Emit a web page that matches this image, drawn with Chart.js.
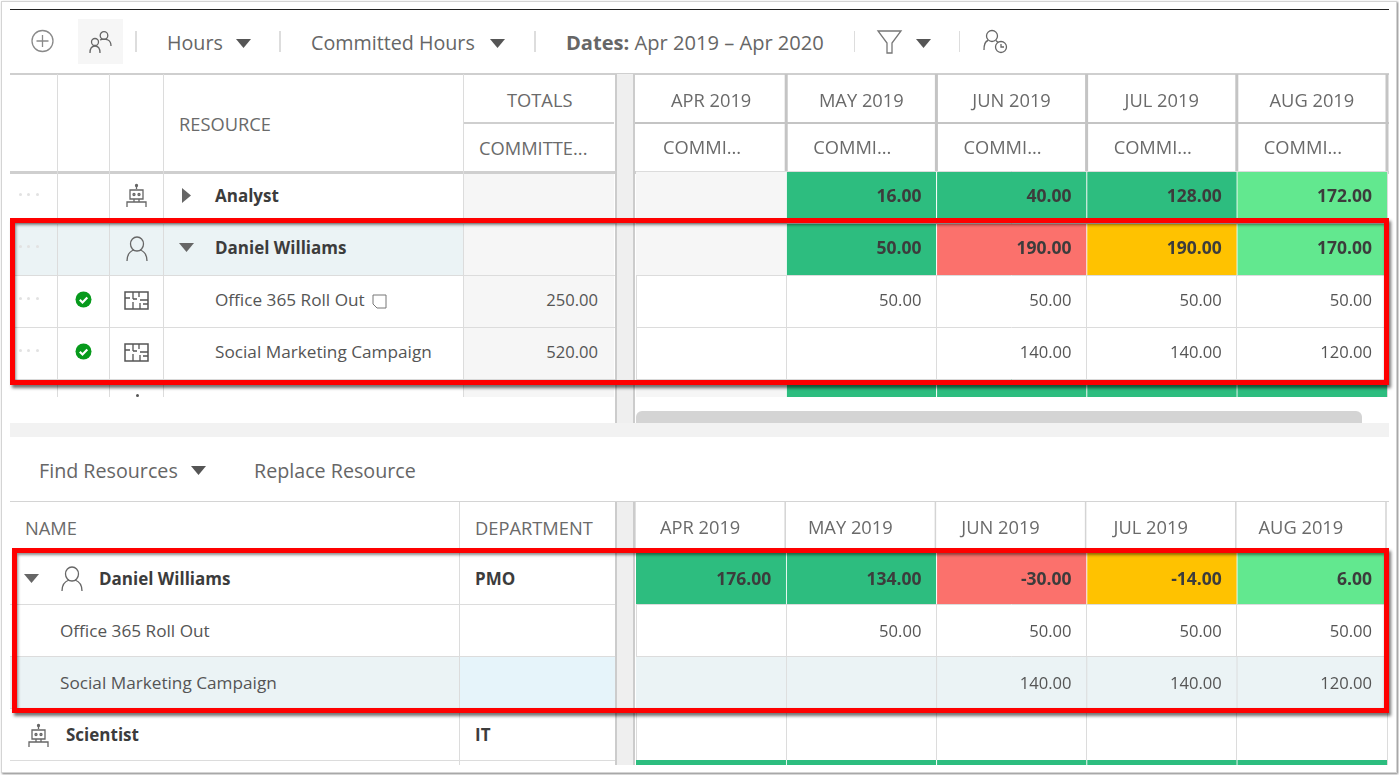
<!DOCTYPE html>
<html lang="en">
<head>
<meta charset="UTF-8" />
<title>Resource Capacity</title>
<style>
  html, body { margin: 0; background: #fff; overflow: hidden; }
  body { width: 1399px; height: 775px; position: relative; font-family: 'Open Sans', sans-serif; font-size: 17.2px; color: #555; }
  #frame { position: absolute; left: 1px; top: 1px; width: 1394px; height: 770px; border: 1px solid #d4d4d4; box-shadow: 1px 1px 2px rgba(0,0,0,.5); }
  .b { position: absolute; }
  .t { position: absolute; white-space: nowrap; line-height: 20px; transform: translateY(-50%); }
  .tool { font-size: 19.7px; color: #666; }
  .head { font-size: 18.3px; color: #6a6a6a; }
  .strong { font-weight: 700; color: #3c3c3c; font-size: 17px; }
  .num { font-size: 16.6px; }
  .r { transform: translate(-100%, -50%); }
  canvas { position: absolute; }
  .redbox { position: absolute; border: 5.5px solid #fe0000; box-sizing: border-box; box-shadow: 2px 3px 3px rgba(0,0,0,.55), inset 1px 2px 3px rgba(0,0,0,.45); }
  svg { position: absolute; overflow: visible; fill: none; stroke: #666; stroke-width: 1.3; }
</style>
</head>
<body>
<div id="frame"></div>
<div class="b" style="left:10px;top:9px;width:1379px;height:1px;background:#222"></div>

<!-- toolbar -->
<svg style="left:31px;top:29px" width="24" height="24"><circle cx="11.500" cy="12" r="10.500" style="stroke:#8a8a8a"/><path d="M11.500 6v12M5.500 12h12" style="stroke:#8a8a8a"/></svg>
<div class="b" style="left:78px;top:19px;width:45px;height:45px;background:#f6f6f6"></div>
<svg style="left:89px;top:30px" width="24" height="24"><circle cx="6" cy="12" r="3.500"/><path d="M1 23c0-5 2-7 5-7s5 2 5 7"/><circle cx="15" cy="5.500" r="3.800"/><path d="M11 10c2-1 6-1 8 0 2 1 3 3 3 6"/></svg>
<div class="b" style="left:135px;top:31px;width:2px;height:21px;background:#ddd"></div>
<div class="t tool" style="left:167px;top:43px">Hours</div>
<svg style="left:236px;top:39px" width="15" height="9"><path d="M0 0h15L7.500 9z" style="fill:#555;stroke:none"/></svg>
<div class="b" style="left:279px;top:31px;width:2px;height:21px;background:#ddd"></div>
<div class="t tool" style="left:311px;top:43px">Committed Hours</div>
<svg style="left:490px;top:39px" width="15" height="9"><path d="M0 0h15L7.500 9z" style="fill:#555;stroke:none"/></svg>
<div class="b" style="left:534px;top:31px;width:2px;height:21px;background:#ddd"></div>
<div class="t tool" style="left:566px;top:43px;font-size:20.1px"><b>Dates:</b> Apr 2019 – Apr 2020</div>
<div class="b" style="left:854px;top:31px;width:1px;height:21px;background:#ddd"></div>
<svg style="left:877px;top:30px" width="26" height="24"><path d="M1 1h23l-9 12v10h-5V13z" style="stroke:#777"/></svg>
<svg style="left:916px;top:39px" width="15" height="9"><path d="M0 0h15L7.500 9z" style="fill:#555;stroke:none"/></svg>
<div class="b" style="left:959px;top:31px;width:1px;height:21px;background:#ddd"></div>
<svg style="left:983px;top:29px" width="25" height="25"><circle cx="9" cy="7" r="5.500"/><path d="M1 21c0-6 2-9 4-9.500M13 11.500l2 2"/><circle cx="18" cy="18" r="5.500"/><path d="M18 15v3h3"/></svg>

<!-- top table, left side -->
<div class="b" style="left:10px;top:73px;width:1379px;height:2px;background:#cfcfcf"></div>
<div class="b" style="left:10px;top:171px;width:1379px;height:3px;background:#cfcfcf"></div>
<div class="b" style="left:463px;top:122px;width:151px;height:2px;background:#cfcfcf"></div>
<div class="b" style="left:463px;top:174px;width:151px;height:223px;background:#f6f6f6"></div>
<div class="b" style="left:10px;top:223px;width:453px;height:52px;background:#ebf3f5"></div>
<div id="topLines"></div>
<div class="t head" style="left:179px;top:124px">RESOURCE</div>
<div class="t head" style="left:507px;top:100px">TOTALS</div>
<div class="t head" style="left:479px;top:148px">COMMITTE...</div>
<div class="b" style="left:615px;top:74px;width:20px;height:349px;background:#efefef;border-left:2px solid #ccc;border-right:2px solid #ccc;box-sizing:border-box"></div>

<div class="t strong" style="left:215px;top:196px">Analyst</div>
<svg style="left:182px;top:188px" width="9" height="15"><path d="M0 0l9 7.500L0 15z" style="fill:#666;stroke:none"/></svg>
<svg style="left:125px;top:184px" width="24" height="24"><use href="#robot"/></svg>

<div class="t strong" style="left:215px;top:248px">Daniel Williams</div>
<svg style="left:179px;top:243px" width="15" height="9"><path d="M0 0h15L7.500 9z" style="fill:#666;stroke:none"/></svg>
<svg style="left:125px;top:236px" width="24" height="26"><use href="#person"/></svg>

<div class="t" style="left:215px;top:300px">Office 365 Roll Out</div>
<svg style="left:372px;top:294px" width="15" height="15"><path d="M1 1h13v13H5L1 10z" style="stroke:#777;stroke-width:1"/></svg>
<svg style="left:124px;top:291px" width="25" height="19"><use href="#plan"/></svg>
<svg style="left:75px;top:291px" width="17" height="17"><use href="#check"/></svg>
<div class="t r num" style="left:598px;top:300px">250.00</div>

<div class="t" style="left:215px;top:352px">Social Marketing Campaign</div>
<svg style="left:124px;top:343px" width="25" height="19"><use href="#plan"/></svg>
<svg style="left:75px;top:343px" width="17" height="17"><use href="#check"/></svg>
<div class="t r num" style="left:598px;top:352px">520.00</div>

<div class="b" style="left:136px;top:394px;width:3px;height:3px;border-radius:50%;background:#555"></div>
<div class="b" style="left:636px;top:411px;width:726px;height:12px;background:#d4d4d4;border-radius:6px 6px 0 0"></div>
<div class="b" style="left:10px;top:423px;width:1379px;height:14px;background:#f2f2f2"></div>

<!-- bottom table, left side -->
<div class="t tool" style="left:39px;top:471px">Find Resources</div>
<svg style="left:191px;top:466px" width="15" height="9"><path d="M0 0h15L7.500 9z" style="fill:#555;stroke:none"/></svg>
<div class="t tool" style="left:254px;top:471px">Replace Resource</div>
<div class="b" style="left:10px;top:501px;width:1379px;height:1px;background:#d4d4d4"></div>
<div class="b" style="left:10px;top:656px;width:449px;height:52px;background:#ebf3f5"></div>
<div class="b" style="left:460px;top:656px;width:155px;height:52px;background:#e6f4fa"></div>
<div id="botLines"></div>
<div class="t head" style="left:25px;top:528px">NAME</div>
<div class="t head" style="left:475px;top:528px">DEPARTMENT</div>
<div class="b" style="left:615px;top:502px;width:20px;height:263px;background:#efefef;border-left:2px solid #ccc;border-right:2px solid #ccc;box-sizing:border-box"></div>
<svg style="left:24px;top:574px" width="15" height="9"><path d="M0 0h15L7.500 9z" style="fill:#666;stroke:none"/></svg>
<svg style="left:60px;top:566px" width="24" height="26"><use href="#person"/></svg>
<div class="t strong" style="left:99px;top:579px">Daniel Williams</div>
<div class="t strong" style="left:475px;top:579px">PMO</div>
<div class="t" style="left:60px;top:631px">Office 365 Roll Out</div>
<div class="t" style="left:60px;top:683px">Social Marketing Campaign</div>
<svg style="left:27px;top:724px" width="24" height="24"><use href="#robot"/></svg>
<div class="t strong" style="left:66px;top:735px">Scientist</div>
<div class="t strong" style="left:475px;top:735px">IT</div>

<svg width="0" height="0" style="position:absolute">
  <defs>
    <g id="robot"><path d="M11.500 1v4M5 6h13v9H5zM2 23v-5h19v5M9 15v3M14 15v3"/><circle cx="11.500" cy="1.500" r="1" style="fill:#666"/><circle cx="9" cy="10.500" r="1"/><circle cx="14" cy="10.500" r="1"/></g>
    <g id="person"><ellipse cx="12" cy="8" rx="6.500" ry="7"/><path d="M2 25c0-7 4-10 7-11M22 25c0-7-4-10-7-11"/></g>
    <g id="plan"><rect x="1" y="1" width="23" height="17" style="stroke:#555;stroke-width:1.500"/><path d="M9 1v7M1 7h5M9 11v7M9 8h4M15 1v5M16 9h8M16 12v6M19 13h5" style="stroke:#555;stroke-width:1.300"/></g>
    <g id="check"><circle cx="8.500" cy="8.500" r="8" style="fill:#079a1c;stroke:none"/><path d="M4.800 8.800l2.700 2.700 4.800-5" style="stroke:#fff;stroke-width:2.200"/></g>
  </defs>
</svg>

<canvas id="topChart" width="754" height="323" style="left:635px;top:74px"></canvas>
<canvas id="bottomChart" width="754" height="263" style="left:635px;top:502px"></canvas>

<div class="redbox" style="left:10px;top:218px;width:1379px;height:167px"></div>
<div class="redbox" style="left:12px;top:548px;width:1377px;height:165px"></div>

<script src="https://cdn.jsdelivr.net/npm/chart.js"></script>
<script>
  // months and cell values
  const months = ['APR 2019', 'MAY 2019', 'JUN 2019', 'JUL 2019', 'AUG 2019'];
  const subHeader = 'COMMI...';

  const topAnalyst = [null, 16, 40, 128, 172];
  const topDaniel = [null, 50, 190, 190, 170];
  const topOffice = [null, 50, 50, 50, 50];
  const topSocial = [null, null, 140, 140, 120];
  const topNext = [null, null, null, null, null];

  const topAnalystStatus = ['tint', 'under', 'under', 'under', 'ok'];
  const topDanielStatus = ['tint', 'under', 'over', 'near', 'ok'];
  const topOfficeStatus = ['none', 'none', 'none', 'none', 'none'];
  const topSocialStatus = ['none', 'none', 'none', 'none', 'none'];
  const topNextStatus = ['tint', 'under', 'under', 'under', 'under'];

  const botDaniel = [176, 134, -30, -14, 6];
  const botOffice = [null, 50, 50, 50, 50];
  const botSocial = [null, null, 140, 140, 120];
  const botScientist = [null, null, null, null, null];
  const botNext = [null, null, null, null, null];

  const botDanielStatus = ['under', 'under', 'over', 'near', 'ok'];
  const botOfficeStatus = ['none', 'none', 'none', 'none', 'none'];
  const botSocialStatus = ['hi', 'hi', 'hi', 'hi', 'hi'];
  const botScientistStatus = ['none', 'none', 'none', 'none', 'none'];
  const botNextStatus = ['under', 'under', 'under', 'under', 'under'];

  const statusColors = {
    none: 'rgba(0,0,0,0)', tint: '#f6f6f6', hi: '#ebf3f5',
    under: '#2dbd7f', ok: '#62e88f', over: '#fb716c', near: '#ffc200'
  };
  const lineColor = '#dcdcdc';

  // a row is one dataset of floating bars, row i covers i..i+1 on the y scale
  function rowDataset(values, status, i) {
    return {
      data: months.map(m => ({ x: m, y: [i, i + 1] })),
      values: values,
      bold: status.some(s => ['under', 'ok', 'over', 'near'].includes(s)),
      backgroundColor: status.map(s => statusColors[s]),
      borderColor: status.map((s, c) => {
        if (c === 0 || s === 'none') return statusColors[s];
        return (s === 'tint' || s === 'hi') ? lineColor : '#fff';
      }),
      borderWidth: { left: 1 },
      borderSkipped: false
    };
  }

  const cellLabels = {
    id: 'cellLabels',
    afterDraw(chart) {
      const ctx = chart.ctx;
      const dy = chart.options.plugins.headerLines.labelDy;
      ctx.save();
      ctx.beginPath();
      ctx.rect(chart.chartArea.left, chart.chartArea.top, chart.chartArea.width, chart.chartArea.height);
      ctx.clip();
      ctx.textAlign = 'right';
      ctx.textBaseline = 'middle';
      chart.data.datasets.forEach((ds, d) => {
        chart.getDatasetMeta(d).data.forEach((bar, i) => {
          if (ds.values[i] === null) return;
          ctx.font = ds.bold ? '700 17.5px "Open Sans"' : '16.6px "Open Sans"';
          ctx.fillStyle = ds.bold ? '#3c3c3c' : '#555';
          ctx.fillText(ds.values[i].toFixed(2), bar.x + bar.width / 2 - 15, (bar.y + bar.base) / 2 + dy);
        });
      });
      ctx.restore();
    }
  };

  const headerLines = {
    id: 'headerLines',
    beforeDraw(chart, args, opts) {
      const ctx = chart.ctx, x = chart.scales.x, top = chart.chartArea.top;
      ctx.save();
      ctx.fillStyle = opts.color;
      months.forEach((m, i) => {
        const left = x.getPixelForValue(i) - (x.width / months.length) / 2 + opts.shift;
        if (i > 0 || opts.first) ctx.fillRect(left - opts.width / 2, 0, opts.width, top);
        if (i === months.length - 1) ctx.fillRect(left + x.width / months.length - opts.width / 2, 0, opts.width, top);
      });
      if (opts.sub) {
        ctx.fillRect(0, 48, chart.width, 2);
        ctx.fillStyle = '#6a6a6a';
        ctx.font = '18.3px "Open Sans"';
        ctx.textAlign = 'center';
        ctx.textBaseline = 'middle';
        months.forEach((m, i) => ctx.fillText(opts.sub, x.getPixelForValue(i) - 9, 75));
      }
      ctx.restore();
    }
  };

  function makeChart(id, rows, opts) {
    return new Chart(document.getElementById(id), {
      type: 'bar',
      data: { labels: months, datasets: rows },
      plugins: [cellLabels, headerLines],
      options: {
        responsive: false,
        animation: false,
        devicePixelRatio: 1,
        events: [],
        layout: { padding: { left: 1, right: 2 } },
        datasets: { bar: { grouped: false, categoryPercentage: 1, barPercentage: 1 } },
        plugins: { legend: { display: false }, tooltip: { enabled: false }, headerLines: opts.lines },
        scales: {
          x: {
            position: 'top',
            offset: true,
            afterFit(scale) { scale.height = opts.headerHeight; },
            grid: { color: lineColor, drawTicks: false },
            border: { display: false },
            ticks: {
              autoSkip: false, maxRotation: 0, padding: opts.tickPadding, labelOffset: opts.labelOffset,
              color: '#6a6a6a', font: { family: 'Open Sans', size: 18.3, lineHeight: opts.tickLines ? '46px' : 1.2 },
              // a blank second line lifts the month into the upper header band
              callback(value) {
                const m = this.getLabelForValue(value);
                return opts.tickLines ? [m, ' '] : m;
              }
            }
          },
          y: {
            reverse: true,
            min: 0,
            max: opts.maxRow,
            grid: { color: lineColor, drawTicks: false, z: 1 },
            border: { display: false },
            ticks: { display: false, stepSize: 1 }
          }
        }
      }
    });
  }

  makeChart('topChart', [
    rowDataset(topAnalyst, topAnalystStatus, 0),
    rowDataset(topDaniel, topDanielStatus, 1),
    rowDataset(topOffice, topOfficeStatus, 2),
    rowDataset(topSocial, topSocialStatus, 3),
    rowDataset(topNext, topNextStatus, 4)
  ], {
    headerHeight: 97, tickPadding: 0, tickLines: true, labelOffset: 0, maxRow: 4.346,
    lines: { color: '#c4c4c4', width: 3, shift: 0, first: false, sub: subHeader, labelDy: 0 }
  });

  makeChart('bottomChart', [
    rowDataset(botDaniel, botDanielStatus, 0),
    rowDataset(botOffice, botOfficeStatus, 1),
    rowDataset(botSocial, botSocialStatus, 2),
    rowDataset(botScientist, botScientistStatus, 3),
    rowDataset(botNext, botNextStatus, 4)
  ], {
    headerHeight: 50, tickPadding: 12, tickLines: false, labelOffset: -11, maxRow: 4.096,
    lines: { color: '#d4d4d4', width: 1.5, shift: -1, first: true, sub: null, labelDy: 2 }
  });

  // plain column rules of the left hand tables
  function rule(parent, x, y, h) {
    const d = document.createElement('div');
    d.className = 'b';
    d.style.cssText = 'left:' + x + 'px;top:' + y + 'px;width:1px;height:' + h + 'px;background:' + lineColor;
    document.getElementById(parent).appendChild(d);
  }
  function hrule(parent, x, y, w) {
    const d = document.createElement('div');
    d.className = 'b';
    d.style.cssText = 'left:' + x + 'px;top:' + y + 'px;width:' + w + 'px;height:1px;background:' + lineColor;
    document.getElementById(parent).appendChild(d);
  }
  [57, 109, 163, 463].forEach(x => rule('topLines', x, 74, 323));
  [223, 275, 327, 379].forEach(y => hrule('topLines', 10, y, 605));
  rule('botLines', 459, 502, 263);
  [604, 656, 708, 760].forEach(y => hrule('botLines', 10, y, 605));

  // the three row handle dots
  [196, 248, 300, 352].forEach(y => [20, 28, 37].forEach(x => {
    const d = document.createElement('div');
    d.className = 'b';
    d.style.cssText = 'left:' + (x - 1) + 'px;top:' + (y - 3) + 'px;width:3px;height:3px;border-radius:50%;background:#e2e2e2';
    document.getElementById('topLines').appendChild(d);
  }));
</script>
</body>
</html>
